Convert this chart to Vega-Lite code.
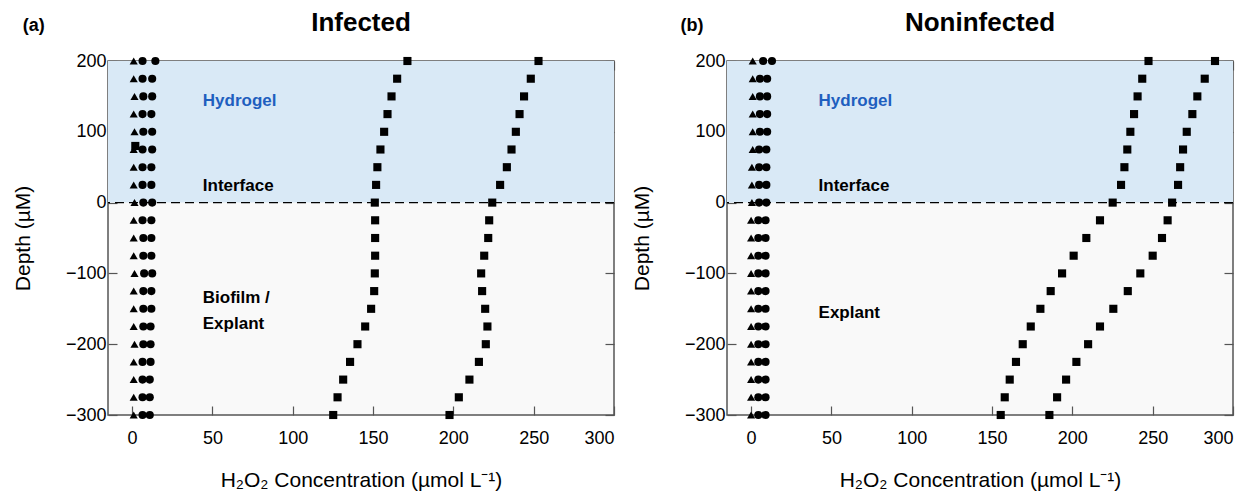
{
  "$schema": "https://vega.github.io/schema/vega-lite/v6.json",
  "background": "white",
  "padding": {"left": 11, "top": 9, "right": 0, "bottom": 0},
  "spacing": 14,
  "config": {
    "font": "Liberation Sans",
    "view": {"stroke": "#555555", "strokeWidth": 1.5, "fill": "#f9f9f9"},
    "axis": {
      "grid": false,
      "domain": false,
      "tickColor": "#555555",
      "tickSize": -9,
      "tickWidth": 1.2,
      "labelFont": "Liberation Sans",
      "labelFontSize": 18,
      "labelColor": "black",
      "titleFont": "Liberation Sans",
      "titleFontSize": 21,
      "titleFontWeight": "normal",
      "titleColor": "black"
    },
    "title": {"font": "Liberation Sans", "fontSize": 26, "fontWeight": "bold", "color": "black"}
  },
  "datasets": {
    "infected": [
      {"depth": 200, "conc": 171.4, "marker": "square"},
      {"depth": 175, "conc": 165, "marker": "square"},
      {"depth": 150, "conc": 161.5, "marker": "square"},
      {"depth": 125, "conc": 159, "marker": "square"},
      {"depth": 100, "conc": 156.9, "marker": "square"},
      {"depth": 75, "conc": 154.6, "marker": "square"},
      {"depth": 50, "conc": 152.7, "marker": "square"},
      {"depth": 25, "conc": 151.9, "marker": "square"},
      {"depth": 0, "conc": 151.1, "marker": "square"},
      {"depth": -25, "conc": 151.3, "marker": "square"},
      {"depth": -50, "conc": 151.3, "marker": "square"},
      {"depth": -75, "conc": 151.3, "marker": "square"},
      {"depth": -100, "conc": 151.1, "marker": "square"},
      {"depth": -125, "conc": 150.7, "marker": "square"},
      {"depth": -150, "conc": 148.8, "marker": "square"},
      {"depth": -175, "conc": 145.1, "marker": "square"},
      {"depth": -200, "conc": 140.3, "marker": "square"},
      {"depth": -225, "conc": 135.7, "marker": "square"},
      {"depth": -250, "conc": 131.4, "marker": "square"},
      {"depth": -275, "conc": 127.9, "marker": "square"},
      {"depth": -300, "conc": 125.2, "marker": "square"},
      {"depth": 200, "conc": 253, "marker": "square"},
      {"depth": 175, "conc": 248.2, "marker": "square"},
      {"depth": 150, "conc": 244, "marker": "square"},
      {"depth": 125, "conc": 241.2, "marker": "square"},
      {"depth": 100, "conc": 238.9, "marker": "square"},
      {"depth": 75, "conc": 236.2, "marker": "square"},
      {"depth": 50, "conc": 233.3, "marker": "square"},
      {"depth": 25, "conc": 229.1, "marker": "square"},
      {"depth": 0, "conc": 224.2, "marker": "square"},
      {"depth": -25, "conc": 222.3, "marker": "square"},
      {"depth": -50, "conc": 221.7, "marker": "square"},
      {"depth": -75, "conc": 219.2, "marker": "square"},
      {"depth": -100, "conc": 217.3, "marker": "square"},
      {"depth": -125, "conc": 217.9, "marker": "square"},
      {"depth": -150, "conc": 219.8, "marker": "square"},
      {"depth": -175, "conc": 221.2, "marker": "square"},
      {"depth": -200, "conc": 220.2, "marker": "square"},
      {"depth": -225, "conc": 215.9, "marker": "square"},
      {"depth": -250, "conc": 210, "marker": "square"},
      {"depth": -275, "conc": 203.4, "marker": "square"},
      {"depth": -300, "conc": 197.6, "marker": "square"},
      {"depth": 80, "conc": 2, "marker": "square"},
      {"depth": 200, "conc": 1, "marker": "triangle-up"},
      {"depth": 175, "conc": 1, "marker": "triangle-up"},
      {"depth": 150, "conc": 1.5, "marker": "triangle-up"},
      {"depth": 125, "conc": 1, "marker": "triangle-up"},
      {"depth": 100, "conc": 1.5, "marker": "triangle-up"},
      {"depth": 75, "conc": 1, "marker": "triangle-up"},
      {"depth": 50, "conc": 1, "marker": "triangle-up"},
      {"depth": 25, "conc": 1, "marker": "triangle-up"},
      {"depth": 0, "conc": 1.5, "marker": "triangle-up"},
      {"depth": -25, "conc": 1, "marker": "triangle-up"},
      {"depth": -50, "conc": 1, "marker": "triangle-up"},
      {"depth": -75, "conc": 1, "marker": "triangle-up"},
      {"depth": -100, "conc": 1.5, "marker": "triangle-up"},
      {"depth": -125, "conc": 1, "marker": "triangle-up"},
      {"depth": -150, "conc": 1, "marker": "triangle-up"},
      {"depth": -175, "conc": 1, "marker": "triangle-up"},
      {"depth": -200, "conc": 1.5, "marker": "triangle-up"},
      {"depth": -225, "conc": 1, "marker": "triangle-up"},
      {"depth": -250, "conc": 1, "marker": "triangle-up"},
      {"depth": -275, "conc": 1, "marker": "triangle-up"},
      {"depth": -300, "conc": 1, "marker": "triangle-up"},
      {"depth": 200, "conc": 6.5, "marker": "circle"},
      {"depth": 175, "conc": 6.5, "marker": "circle"},
      {"depth": 150, "conc": 7, "marker": "circle"},
      {"depth": 125, "conc": 6.5, "marker": "circle"},
      {"depth": 100, "conc": 7, "marker": "circle"},
      {"depth": 75, "conc": 6.5, "marker": "circle"},
      {"depth": 50, "conc": 6.5, "marker": "circle"},
      {"depth": 25, "conc": 6.5, "marker": "circle"},
      {"depth": 0, "conc": 7, "marker": "circle"},
      {"depth": -25, "conc": 6.5, "marker": "circle"},
      {"depth": -50, "conc": 7, "marker": "circle"},
      {"depth": -75, "conc": 7, "marker": "circle"},
      {"depth": -100, "conc": 7.5, "marker": "circle"},
      {"depth": -125, "conc": 7, "marker": "circle"},
      {"depth": -150, "conc": 7, "marker": "circle"},
      {"depth": -175, "conc": 7, "marker": "circle"},
      {"depth": -200, "conc": 7, "marker": "circle"},
      {"depth": -225, "conc": 6.5, "marker": "circle"},
      {"depth": -250, "conc": 6.5, "marker": "circle"},
      {"depth": -275, "conc": 6.5, "marker": "circle"},
      {"depth": -300, "conc": 6.5, "marker": "circle"},
      {"depth": 200, "conc": 14.5, "marker": "circle"},
      {"depth": 175, "conc": 12.5, "marker": "circle"},
      {"depth": 150, "conc": 12.5, "marker": "circle"},
      {"depth": 125, "conc": 12, "marker": "circle"},
      {"depth": 100, "conc": 12.5, "marker": "circle"},
      {"depth": 75, "conc": 12.5, "marker": "circle"},
      {"depth": 50, "conc": 12, "marker": "circle"},
      {"depth": 25, "conc": 12, "marker": "circle"},
      {"depth": 0, "conc": 12.5, "marker": "circle"},
      {"depth": -25, "conc": 12, "marker": "circle"},
      {"depth": -50, "conc": 12, "marker": "circle"},
      {"depth": -75, "conc": 12, "marker": "circle"},
      {"depth": -100, "conc": 12.5, "marker": "circle"},
      {"depth": -125, "conc": 12, "marker": "circle"},
      {"depth": -150, "conc": 12, "marker": "circle"},
      {"depth": -175, "conc": 11.5, "marker": "circle"},
      {"depth": -200, "conc": 11.5, "marker": "circle"},
      {"depth": -225, "conc": 11.5, "marker": "circle"},
      {"depth": -250, "conc": 11, "marker": "circle"},
      {"depth": -275, "conc": 11, "marker": "circle"},
      {"depth": -300, "conc": 11, "marker": "circle"}
    ],
    "noninfected": [
      {"depth": 200, "conc": 247.4, "marker": "square"},
      {"depth": 175, "conc": 243.5, "marker": "square"},
      {"depth": 150, "conc": 240.6, "marker": "square"},
      {"depth": 125, "conc": 238.4, "marker": "square"},
      {"depth": 100, "conc": 236.1, "marker": "square"},
      {"depth": 75, "conc": 234.2, "marker": "square"},
      {"depth": 50, "conc": 232.4, "marker": "square"},
      {"depth": 25, "conc": 230.3, "marker": "square"},
      {"depth": 0, "conc": 225.1, "marker": "square"},
      {"depth": -25, "conc": 217.2, "marker": "square"},
      {"depth": -50, "conc": 208.7, "marker": "square"},
      {"depth": -75, "conc": 200.8, "marker": "square"},
      {"depth": -100, "conc": 193.6, "marker": "square"},
      {"depth": -125, "conc": 186.5, "marker": "square"},
      {"depth": -150, "conc": 180.1, "marker": "square"},
      {"depth": -175, "conc": 174.1, "marker": "square"},
      {"depth": -200, "conc": 169.1, "marker": "square"},
      {"depth": -225, "conc": 164.9, "marker": "square"},
      {"depth": -250, "conc": 161, "marker": "square"},
      {"depth": -275, "conc": 157.9, "marker": "square"},
      {"depth": -300, "conc": 155.4, "marker": "square"},
      {"depth": 200, "conc": 288.8, "marker": "square"},
      {"depth": 175, "conc": 282.4, "marker": "square"},
      {"depth": 150, "conc": 277.8, "marker": "square"},
      {"depth": 125, "conc": 274.7, "marker": "square"},
      {"depth": 100, "conc": 271.2, "marker": "square"},
      {"depth": 75, "conc": 268.9, "marker": "square"},
      {"depth": 50, "conc": 267.1, "marker": "square"},
      {"depth": 25, "conc": 265.8, "marker": "square"},
      {"depth": 0, "conc": 262.1, "marker": "square"},
      {"depth": -25, "conc": 259.3, "marker": "square"},
      {"depth": -50, "conc": 255.8, "marker": "square"},
      {"depth": -75, "conc": 250, "marker": "square"},
      {"depth": -100, "conc": 242.3, "marker": "square"},
      {"depth": -125, "conc": 234.5, "marker": "square"},
      {"depth": -150, "conc": 225.5, "marker": "square"},
      {"depth": -175, "conc": 217.2, "marker": "square"},
      {"depth": -200, "conc": 209.8, "marker": "square"},
      {"depth": -225, "conc": 202.5, "marker": "square"},
      {"depth": -250, "conc": 196.1, "marker": "square"},
      {"depth": -275, "conc": 190.5, "marker": "square"},
      {"depth": -300, "conc": 185.7, "marker": "square"},
      {"depth": 200, "conc": 1, "marker": "triangle-up"},
      {"depth": 175, "conc": 1, "marker": "triangle-up"},
      {"depth": 150, "conc": 1, "marker": "triangle-up"},
      {"depth": 125, "conc": 1, "marker": "triangle-up"},
      {"depth": 100, "conc": 1, "marker": "triangle-up"},
      {"depth": 75, "conc": 1, "marker": "triangle-up"},
      {"depth": 50, "conc": 0.5, "marker": "triangle-up"},
      {"depth": 25, "conc": 0.5, "marker": "triangle-up"},
      {"depth": 0, "conc": 0.5, "marker": "triangle-up"},
      {"depth": -25, "conc": 0, "marker": "triangle-up"},
      {"depth": -50, "conc": 0, "marker": "triangle-up"},
      {"depth": -75, "conc": 0, "marker": "triangle-up"},
      {"depth": -100, "conc": 0, "marker": "triangle-up"},
      {"depth": -125, "conc": 0, "marker": "triangle-up"},
      {"depth": -150, "conc": 0, "marker": "triangle-up"},
      {"depth": -175, "conc": 0, "marker": "triangle-up"},
      {"depth": -200, "conc": 0, "marker": "triangle-up"},
      {"depth": -225, "conc": 0, "marker": "triangle-up"},
      {"depth": -250, "conc": 0, "marker": "triangle-up"},
      {"depth": -275, "conc": 0, "marker": "triangle-up"},
      {"depth": -300, "conc": 0, "marker": "triangle-up"},
      {"depth": 200, "conc": 7.5, "marker": "circle"},
      {"depth": 175, "conc": 5.5, "marker": "circle"},
      {"depth": 150, "conc": 5.5, "marker": "circle"},
      {"depth": 125, "conc": 5.5, "marker": "circle"},
      {"depth": 100, "conc": 5.5, "marker": "circle"},
      {"depth": 75, "conc": 5, "marker": "circle"},
      {"depth": 50, "conc": 5, "marker": "circle"},
      {"depth": 25, "conc": 5, "marker": "circle"},
      {"depth": 0, "conc": 5, "marker": "circle"},
      {"depth": -25, "conc": 4.5, "marker": "circle"},
      {"depth": -50, "conc": 4.5, "marker": "circle"},
      {"depth": -75, "conc": 4.5, "marker": "circle"},
      {"depth": -100, "conc": 4.5, "marker": "circle"},
      {"depth": -125, "conc": 4.5, "marker": "circle"},
      {"depth": -150, "conc": 4.5, "marker": "circle"},
      {"depth": -175, "conc": 4.5, "marker": "circle"},
      {"depth": -200, "conc": 4.5, "marker": "circle"},
      {"depth": -225, "conc": 4.5, "marker": "circle"},
      {"depth": -250, "conc": 4.5, "marker": "circle"},
      {"depth": -275, "conc": 4.5, "marker": "circle"},
      {"depth": -300, "conc": 4.5, "marker": "circle"},
      {"depth": 200, "conc": 13, "marker": "circle"},
      {"depth": 175, "conc": 10, "marker": "circle"},
      {"depth": 150, "conc": 10, "marker": "circle"},
      {"depth": 125, "conc": 10, "marker": "circle"},
      {"depth": 100, "conc": 10, "marker": "circle"},
      {"depth": 75, "conc": 9.5, "marker": "circle"},
      {"depth": 50, "conc": 9.5, "marker": "circle"},
      {"depth": 25, "conc": 9.5, "marker": "circle"},
      {"depth": 0, "conc": 9.5, "marker": "circle"},
      {"depth": -25, "conc": 9, "marker": "circle"},
      {"depth": -50, "conc": 9, "marker": "circle"},
      {"depth": -75, "conc": 9, "marker": "circle"},
      {"depth": -100, "conc": 9, "marker": "circle"},
      {"depth": -125, "conc": 9, "marker": "circle"},
      {"depth": -150, "conc": 9, "marker": "circle"},
      {"depth": -175, "conc": 9, "marker": "circle"},
      {"depth": -200, "conc": 9, "marker": "circle"},
      {"depth": -225, "conc": 9, "marker": "circle"},
      {"depth": -250, "conc": 9, "marker": "circle"},
      {"depth": -275, "conc": 9, "marker": "circle"},
      {"depth": -300, "conc": 9, "marker": "circle"}
    ]
  },
  "hconcat": [
    {
      "width": 506,
      "height": 354,
      "title": {"text": "Infected", "anchor": "middle", "offset": -19},
      "resolve": {"axis": {"x": "independent", "y": "independent"}},
      "layer": [
        {
          "data": {"values": [{}]},
          "mark": {"type": "rect", "color": "#d9e9f6"},
          "encoding": {
            "y": {"datum": 200, "type": "quantitative", "scale": {"domain": [-300, 200], "nice": false, "zero": false}, "axis": null},
            "y2": {"datum": 0}
          }
        },
        {
          "data": {"values": [{}]},
          "mark": {"type": "rule", "color": "black", "strokeDash": [9, 5], "strokeWidth": 1.2},
          "encoding": {"y": {"datum": 0, "type": "quantitative", "axis": null}}
        },
        {
          "data": {"name": "infected"},
          "mark": {"type": "point", "filled": true, "color": "black", "opacity": 1, "size": 66},
          "encoding": {
            "x": {"field": "conc", "type": "quantitative", "scale": {"domain": [-15, 300], "nice": false, "zero": false},
              "axis": {"orient": "bottom", "values": [0, 50, 100, 150, 200, 250, 300], "labelPadding": 23, "title": "H₂O₂ Concentration (µmol L⁻¹)", "titlePadding": 22}},
            "y": {"field": "depth", "type": "quantitative",
              "axis": {"orient": "left", "values": [-300, -200, -100, 0, 100, 200], "labelPadding": 11, "title": "Depth (µM)", "titlePadding": 32}},
            "shape": {"field": "marker", "type": "nominal", "scale": {"domain": ["square", "circle", "triangle-up"], "range": ["square", "circle", "triangle-up"]}, "legend": null}
          }
        },
        {
          "data": {"name": "infected"},
          "mark": {"type": "point", "opacity": 0},
          "encoding": {
            "x": {"field": "conc", "type": "quantitative", "axis": {"orient": "top", "values": [0, 50, 100, 150, 200, 250, 300], "labels": false, "title": null}},
            "y": {"field": "depth", "type": "quantitative", "axis": {"orient": "right", "values": [-300, -200, -100, 0, 100, 200], "labels": false, "title": null}}
          }
        },
        {
          "data": {"values": [{}]},
          "mark": {"type": "text", "align": "left", "baseline": "middle", "fontSize": 17, "fontWeight": "bold", "color": "#1f5fbf"},
          "encoding": {"x": {"datum": 44, "type": "quantitative", "axis": null}, "y": {"datum": 143, "type": "quantitative", "axis": null}, "text": {"value": "Hydrogel"}}
        },
        {
          "data": {"values": [{}]},
          "mark": {"type": "text", "align": "left", "baseline": "middle", "fontSize": 17, "fontWeight": "bold", "color": "black"},
          "encoding": {"x": {"datum": 44, "type": "quantitative", "axis": null}, "y": {"datum": 24, "type": "quantitative", "axis": null}, "text": {"value": "Interface"}}
        },
        {
          "data": {"values": [{}]},
          "mark": {"type": "text", "align": "left", "baseline": "middle", "fontSize": 17, "fontWeight": "bold", "color": "black"},
          "encoding": {"x": {"datum": 44, "type": "quantitative", "axis": null}, "y": {"datum": -135, "type": "quantitative", "axis": null}, "text": {"value": "Biofilm /"}}
        },
        {
          "data": {"values": [{}]},
          "mark": {"type": "text", "align": "left", "baseline": "middle", "fontSize": 17, "fontWeight": "bold", "color": "black"},
          "encoding": {"x": {"datum": 44, "type": "quantitative", "axis": null}, "y": {"datum": -172, "type": "quantitative", "axis": null}, "text": {"value": "Explant"}}
        },
        {
          "data": {"values": [{}]},
          "mark": {"type": "text", "align": "left", "baseline": "middle", "fontSize": 18, "fontWeight": "bold", "color": "black"},
          "encoding": {"x": {"datum": -68, "type": "quantitative", "axis": null}, "y": {"datum": 249, "type": "quantitative", "axis": null}, "text": {"value": "(a)"}}
        }
      ]
    },
    {
      "width": 506,
      "height": 354,
      "title": {"text": "Noninfected", "anchor": "middle", "offset": -19},
      "resolve": {"axis": {"x": "independent", "y": "independent"}},
      "layer": [
        {
          "data": {"values": [{}]},
          "mark": {"type": "rect", "color": "#d9e9f6"},
          "encoding": {
            "y": {"datum": 200, "type": "quantitative", "scale": {"domain": [-300, 200], "nice": false, "zero": false}, "axis": null},
            "y2": {"datum": 0}
          }
        },
        {
          "data": {"values": [{}]},
          "mark": {"type": "rule", "color": "black", "strokeDash": [9, 5], "strokeWidth": 1.2},
          "encoding": {"y": {"datum": 0, "type": "quantitative", "axis": null}}
        },
        {
          "data": {"name": "noninfected"},
          "mark": {"type": "point", "filled": true, "color": "black", "opacity": 1, "size": 66},
          "encoding": {
            "x": {"field": "conc", "type": "quantitative", "scale": {"domain": [-15, 300], "nice": false, "zero": false},
              "axis": {"orient": "bottom", "values": [0, 50, 100, 150, 200, 250, 300], "labelPadding": 23, "title": "H₂O₂ Concentration (µmol L⁻¹)", "titlePadding": 22}},
            "y": {"field": "depth", "type": "quantitative",
              "axis": {"orient": "left", "values": [-300, -200, -100, 0, 100, 200], "labelPadding": 11, "title": "Depth (µM)", "titlePadding": 32}},
            "shape": {"field": "marker", "type": "nominal", "scale": {"domain": ["square", "circle", "triangle-up"], "range": ["square", "circle", "triangle-up"]}, "legend": null}
          }
        },
        {
          "data": {"name": "noninfected"},
          "mark": {"type": "point", "opacity": 0},
          "encoding": {
            "x": {"field": "conc", "type": "quantitative", "axis": {"orient": "top", "values": [0, 50, 100, 150, 200, 250, 300], "labels": false, "title": null}},
            "y": {"field": "depth", "type": "quantitative", "axis": {"orient": "right", "values": [-300, -200, -100, 0, 100, 200], "labels": false, "title": null}}
          }
        },
        {
          "data": {"values": [{}]},
          "mark": {"type": "text", "align": "left", "baseline": "middle", "fontSize": 17, "fontWeight": "bold", "color": "#1f5fbf"},
          "encoding": {"x": {"datum": 42, "type": "quantitative", "axis": null}, "y": {"datum": 143, "type": "quantitative", "axis": null}, "text": {"value": "Hydrogel"}}
        },
        {
          "data": {"values": [{}]},
          "mark": {"type": "text", "align": "left", "baseline": "middle", "fontSize": 17, "fontWeight": "bold", "color": "black"},
          "encoding": {"x": {"datum": 42, "type": "quantitative", "axis": null}, "y": {"datum": 24, "type": "quantitative", "axis": null}, "text": {"value": "Interface"}}
        },
        {
          "data": {"values": [{}]},
          "mark": {"type": "text", "align": "left", "baseline": "middle", "fontSize": 17, "fontWeight": "bold", "color": "black"},
          "encoding": {"x": {"datum": 42, "type": "quantitative", "axis": null}, "y": {"datum": -156, "type": "quantitative", "axis": null}, "text": {"value": "Explant"}}
        },
        {
          "data": {"values": [{}]},
          "mark": {"type": "text", "align": "left", "baseline": "middle", "fontSize": 18, "fontWeight": "bold", "color": "black"},
          "encoding": {"x": {"datum": -44, "type": "quantitative", "axis": null}, "y": {"datum": 249, "type": "quantitative", "axis": null}, "text": {"value": "(b)"}}
        }
      ]
    }
  ]
}
